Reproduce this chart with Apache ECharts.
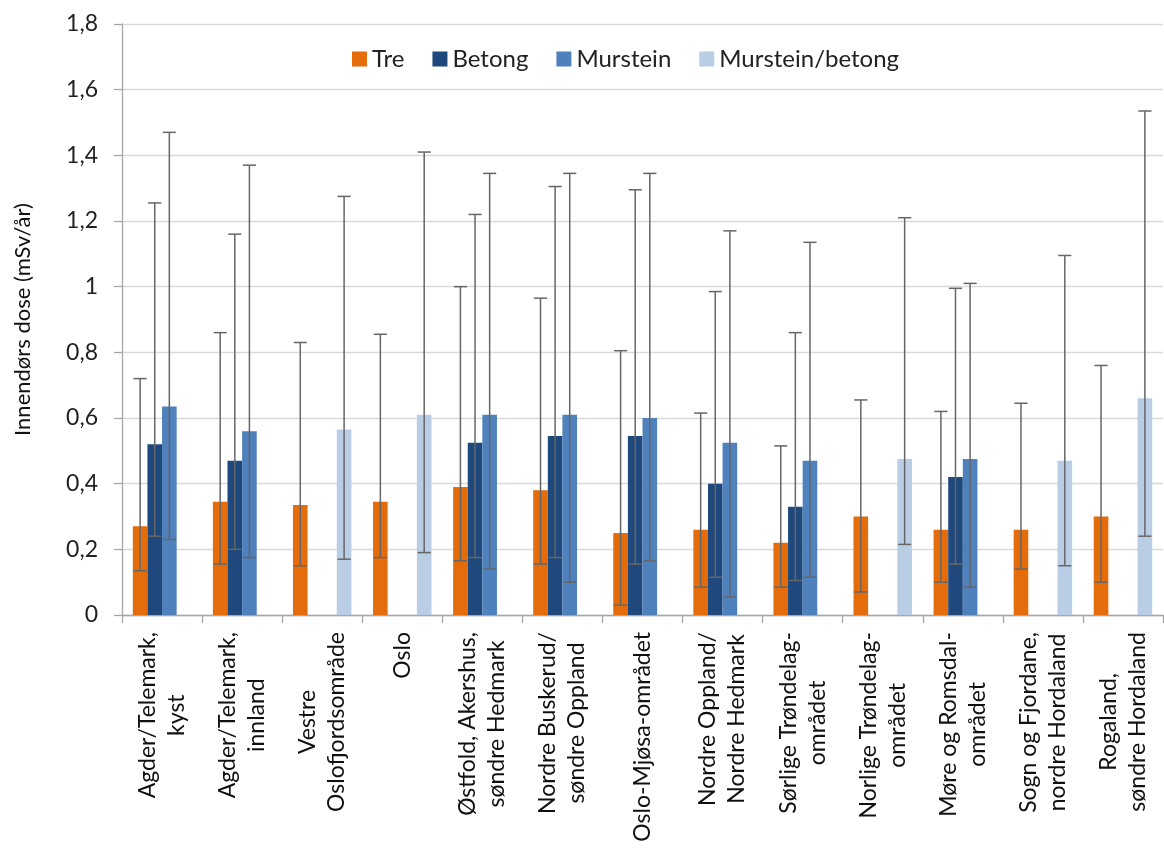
<!DOCTYPE html>
<html lang="no">
<head>
<meta charset="utf-8">
<title>Innendørs dose etter byggemateriale</title>
<script src="https://cdn.jsdelivr.net/npm/echarts@6/dist/echarts.min.js"></script>
<style>
  html, body { margin: 0; padding: 0; background: #ffffff; }
  #chart { width: 1164px; height: 848px; }
</style>
</head>
<body>
<div id="chart"></div>
<script>
// Regions (x axis)
const categories = [
  'Agder/Telemark,\nkyst',
  'Agder/Telemark,\ninnland',
  'Vestre\nOslofjordsområde',
  'Oslo',
  'Østfold, Akershus,\nsøndre Hedmark',
  'Nordre Buskerud/\nsøndre Oppland',
  'Oslo-Mjøsa-området',
  'Nordre Oppland/\nNordre Hedmark',
  'Sørlige Trøndelag-\nområdet',
  'Norlige Trøndelag-\nområdet',
  'Møre og Romsdal-\nområdet',
  'Sogn og Fjordane,\nnordre Hordaland',
  'Rogaland,\nsøndre Hordaland'
];

// Mean indoor dose (mSv/år) by building material, with lower/upper error limits
const tre        = [0.27, 0.345, 0.335, 0.345, 0.39, 0.38, 0.25, 0.26, 0.22, 0.30, 0.26, 0.26, 0.30];
const treLow     = [0.135, 0.155, 0.15, 0.175, 0.165, 0.155, 0.03, 0.085, 0.085, 0.07, 0.10, 0.14, 0.10];
const treHigh    = [0.72, 0.86, 0.83, 0.855, 1.0, 0.965, 0.805, 0.615, 0.515, 0.655, 0.62, 0.645, 0.76];

const betong     = [0.52, 0.47, null, null, 0.525, 0.545, 0.545, 0.40, 0.33, null, 0.42, null, null];
const betongLow  = [0.24, 0.20, null, null, 0.175, 0.175, 0.155, 0.115, 0.105, null, 0.155, null, null];
const betongHigh = [1.255, 1.16, null, null, 1.22, 1.305, 1.295, 0.985, 0.86, null, 0.995, null, null];

const murstein     = [0.635, 0.56, null, null, 0.61, 0.61, 0.60, 0.525, 0.47, null, 0.475, null, null];
const mursteinLow  = [0.23, 0.175, null, null, 0.14, 0.10, 0.165, 0.055, 0.115, null, 0.085, null, null];
const mursteinHigh = [1.47, 1.37, null, null, 1.345, 1.345, 1.345, 1.17, 1.135, null, 1.01, null, null];

const mursteinBetong     = [null, null, 0.565, 0.61, null, null, null, null, null, 0.475, null, 0.47, 0.66];
const mursteinBetongLow  = [null, null, 0.17, 0.19, null, null, null, null, null, 0.215, null, 0.15, 0.24];
const mursteinBetongHigh = [null, null, 1.275, 1.41, null, null, null, null, null, 1.21, null, 1.095, 1.535];

// Y axis ticks
const yMin = 0, yMax = 1.8, yStep = 0.2;

const FONT = 'Lato, "Open Sans", sans-serif';
const CATEGORY_GAP = 0.27;
const SERIES_COUNT = 4;

const seriesDefs = [
  { name: 'Tre',             color: '#E46C0A', values: tre,            low: treLow,            high: treHigh },
  { name: 'Betong',          color: '#1F497D', values: betong,         low: betongLow,         high: betongHigh },
  { name: 'Murstein',        color: '#4F81BD', values: murstein,       low: mursteinLow,       high: mursteinHigh },
  { name: 'Murstein/betong', color: '#B9CDE5', values: mursteinBetong, low: mursteinBetongLow, high: mursteinBetongHigh }
];

// Error bar drawn at the centre of the bar occupying slot `slot` in its category
function errorBarRenderer(slot) {
  return function (params, api) {
    const cat = api.value(0);
    const lo = api.coord([cat, api.value(1)]);
    const hi = api.coord([cat, api.value(2)]);
    const band = api.size([1, 0])[0];
    const barW = band * (1 - CATEGORY_GAP) / SERIES_COUNT;
    const x = lo[0] + (slot - (SERIES_COUNT - 1) / 2) * barW;
    const half = barW * 0.45;
    const style = { stroke: '#666666', lineWidth: 1.5 };
    return {
      type: 'group',
      children: [
        { type: 'line', shape: { x1: x, y1: hi[1], x2: x, y2: lo[1] }, style: style },
        { type: 'line', shape: { x1: x - half, y1: hi[1], x2: x + half, y2: hi[1] }, style: style },
        { type: 'line', shape: { x1: x - half, y1: lo[1], x2: x + half, y2: lo[1] }, style: style }
      ]
    };
  };
}

const series = [];
seriesDefs.forEach(function (d) {
  series.push({
    name: d.name,
    type: 'bar',
    barGap: '0%',
    barCategoryGap: (CATEGORY_GAP * 100) + '%',
    itemStyle: { color: d.color },
    data: d.values.map(function (v) { return v == null ? '-' : v; }),
    z: 2
  });
});
seriesDefs.forEach(function (d, slot) {
  const data = [];
  d.values.forEach(function (v, i) {
    if (v != null) data.push([i, d.low[i], d.high[i]]);
  });
  series.push({
    name: d.name + ' feil',
    type: 'custom',
    renderItem: errorBarRenderer(slot),
    encode: { x: 0, y: [1, 2] },
    data: data,
    z: 5,
    silent: true
  });
});

const chart = echarts.init(document.getElementById('chart'), null, { renderer: 'canvas' });
chart.setOption({
  animation: false,
  backgroundColor: '#ffffff',
  textStyle: { fontFamily: FONT },
  grid: { left: 122, right: 1, top: 24, bottom: 233, containLabel: false },
  legend: {
    data: seriesDefs.map(function (d) { return d.name; }),
    left: 347,
    top: 42,
    itemWidth: 15,
    itemHeight: 15,
    itemGap: 28,
    icon: 'rect',
    textStyle: { fontFamily: FONT, fontSize: 24, color: '#222222', padding: [0, 0, 0, 0] }
  },
  xAxis: {
    type: 'category',
    data: categories,
    axisLine: { lineStyle: { color: '#a6a6a6', width: 1.3 } },
    axisTick: { show: true, length: 8, lineStyle: { color: '#a6a6a6', width: 1.3 } },
    axisLabel: {
      interval: 0,
      rotate: 90,
      margin: 17,
      formatter: function (v) {
        return v.split('\n').map(function (l) { return '{c|' + l + '}'; }).join('\n');
      },
      rich: {
        c: { align: 'center', fontFamily: FONT, fontSize: 23, lineHeight: 29, color: '#111111' }
      }
    }
  },
  yAxis: {
    type: 'value',
    min: yMin,
    max: yMax,
    interval: yStep,
    name: 'Innendørs dose (mSv/år)',
    nameLocation: 'middle',
    nameRotate: 90,
    nameGap: 88,
    nameTextStyle: { fontFamily: FONT, fontSize: 22, color: '#111111' },
    axisLine: { show: true, lineStyle: { color: '#a6a6a6', width: 1.3 } },
    axisTick: { show: true, length: 8, lineStyle: { color: '#a6a6a6', width: 1.3 } },
    splitLine: { lineStyle: { color: '#d9d9d9', width: 1.3 } },
    axisLabel: {
      margin: 24,
      fontFamily: FONT,
      fontSize: 23,
      color: '#222222',
      formatter: function (v) { return String(+v.toFixed(1)).replace('.', ','); }
    }
  },
  series: series
});
</script>
</body>
</html>
